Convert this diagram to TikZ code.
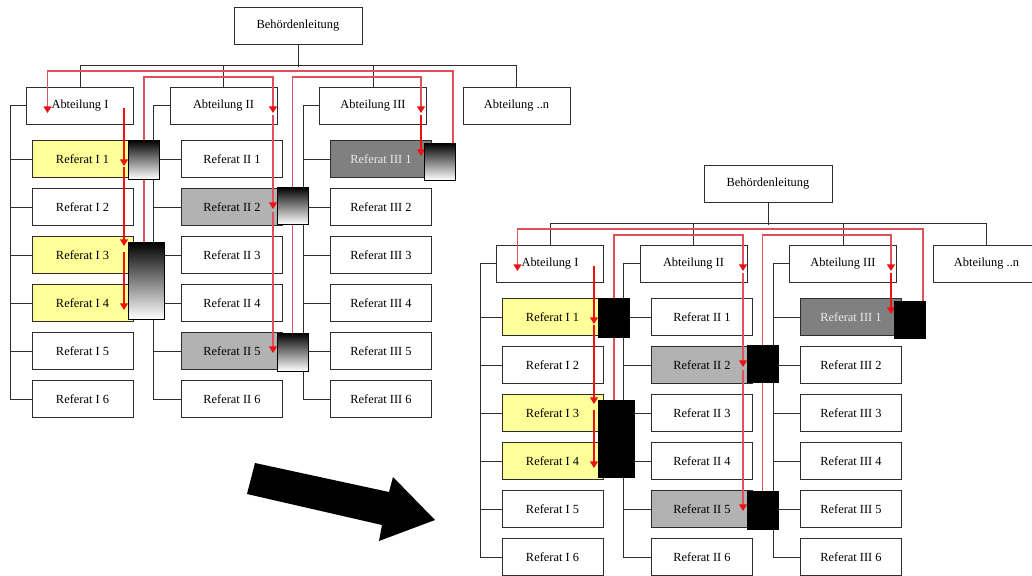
\documentclass[tikz,border=0pt]{standalone}
\usepackage{fontspec}
\setmainfont{Liberation Serif}
\usetikzlibrary{arrows.meta,calc}

\definecolor{refyellow}{RGB}{255,255,153}
\definecolor{refgray}{RGB}{178,178,178}
\definecolor{refdark}{RGB}{128,128,128}
\definecolor{linkred}{RGB}{236,18,18}
\definecolor{routered}{RGB}{224,80,90}
\definecolor{framegray}{RGB}{45,45,45}

\tikzset{
  orgbox/.style={draw=framegray, line width=0.75pt, fill=white, inner sep=0pt,
    minimum height=27.75pt, font=\fontsize{9.3}{11}\selectfont},
  headbox/.style={orgbox, minimum width=96pt},
  deptbox/.style={orgbox, minimum width=80.25pt},
  refbox/.style={orgbox, minimum width=75.75pt},
  tree/.style={draw=framegray, line width=0.75pt},
  redtip/.style={draw=linkred, line width=0.9pt,
    -{Triangle[width=6pt,length=5pt,color=linkred]}},
  routetip/.style={redtip, draw=routered, line width=1pt},
  markslot/.style={inner sep=0pt, outer sep=0pt},
  shadedmark/.style={draw=black, line width=0.6pt, top color=black, bottom color=white},
  solidmark/.style={draw=black, line width=0.6pt, fill=black},
}

% One organisation chart; #1 = name prefix, #2 = style of the marker blocks
\newcommand{\orgchart}[2]{
  % boxes
  \node[headbox] (#1top) at (298,25.5) {Behördenleitung};
  \node[deptbox] (#1abt1) at (80,105.5) {Abteilung I};
  \node[deptbox] (#1abt2) at (223.5,105.5) {Abteilung II};
  \node[deptbox] (#1abt3) at (373,105.5) {Abteilung III};
  \node[deptbox] (#1abt4) at (516.5,105.5) {Abteilung ..n};
  \foreach \k/\fc/\tc in {1/refyellow/black,2/white/black,3/refyellow/black,
                          4/refyellow/black,5/white/black,6/white/black}
    \node[refbox, fill=\fc, text=\tc] (#1ref1\k) at (82.5,{159+48*(\k-1)}) {Referat I \k};
  \foreach \k/\fc/\tc in {1/white/black,2/refgray/black,3/white/black,
                          4/white/black,5/refgray/black,6/white/black}
    \node[refbox, fill=\fc, text=\tc] (#1ref2\k) at (232,{159+48*(\k-1)}) {Referat II \k};
  \foreach \k/\fc/\tc in {1/refdark/white!92!black,2/white/black,3/white/black,
                          4/white/black,5/white/black,6/white/black}
    \node[refbox, fill=\fc, text=\tc] (#1ref3\k) at (381,{159+48*(\k-1)}) {Referat III \k};
  % marker block places (drawn last)
  \node[markslot, minimum width=23.25pt, minimum height=29.25pt] (#1g1) at (143.5,159.5) {};
  \node[markslot, minimum width=27pt, minimum height=57.75pt] (#1g2) at (146,280.5) {};
  \node[markslot, minimum width=23.25pt, minimum height=27.75pt] (#1g3) at (292.5,205.5) {};
  \node[markslot, minimum width=23.25pt, minimum height=28.5pt] (#1g4) at (292.5,352) {};
  \node[markslot, minimum width=23.25pt, minimum height=27.75pt] (#1g5) at (439.5,161.5) {};
  % tree connectors
  \draw[tree] (#1top.south) -- ++(0,22);
  \draw[tree] (#1abt1.north) -- ++(0,-21) -| (#1abt4.north);
  \draw[tree] (#1abt2.north) -- ++(0,-21);
  \draw[tree] (#1abt3.north) -- ++(0,-21);
  \foreach \c in {1,2,3}
    \foreach \k in {1,...,6}
      \draw[tree] (#1abt\c.west) -- ++(-16,0) |- (#1ref\c\k.west);
  % red routes from the marker blocks up to the departments
  \draw[routetip] ($(#1g5.north east)+(-2,0)$) -- ++(0,-72) -| ($(#1abt1.west)+(21.5,7.5)$);
  \draw[routetip] ($(#1g2.north)+(-2,0)$) -- ++(0,-165) -| ($(#1abt2.east)+(-4.5,7.5)$);
  \draw[routetip] (#1g4.north) -- ++(0,-256) -| ($(#1abt3.east)+(-6,7.5)$);
  % red arrows down into the sections
  \draw[redtip] ($(#1abt1.east)+(-10,2.5)$) -- ($(#1ref11.east)+(-9.5,7)$);
  \draw[redtip] ($(#1ref11.east)+(-9.5,8)$) -- ($(#1ref13.east)+(-9.5,-9)$);
  \draw[redtip] ($(#1ref13.east)+(-9.5,-3)$) -- ($(#1ref14.east)+(-9.5,7)$);
  \draw[routetip] ($(#1abt2.east)+(-4.5,9.5)$) -- ($(#1ref22.east)+(-10,2)$);
  \draw[routetip] ($(#1ref22.east)+(-10,5)$) -- ($(#1ref25.east)+(-10,2)$);
  \draw[redtip] ($(#1abt3.east)+(-6,9.5)$) -- ($(#1ref31.east)+(-11,-3)$);
  % marker blocks on top
  \foreach \m in {1,...,5}
    \path[#2] (#1g\m.north west) rectangle (#1g\m.south east);
}

\begin{document}
\begin{tikzpicture}[x=0.75pt, y=-0.75pt]
  \useasboundingbox (0,0) rectangle (1032,575);
  \clip (0,0) rectangle (1032,575);
  \fill[white] (0,0) rectangle (1032,575);

  \orgchart{L}{shadedmark}

  \begin{scope}[shift={(470,158)}]
    \orgchart{R}{solidmark}
  \end{scope}

  % big transition arrow
  \fill[black] (255,463) -- (389,492) -- (393,477) -- (435,520)
               -- (379,541) -- (382,525) -- (247,494) -- cycle;
\end{tikzpicture}
\end{document}
